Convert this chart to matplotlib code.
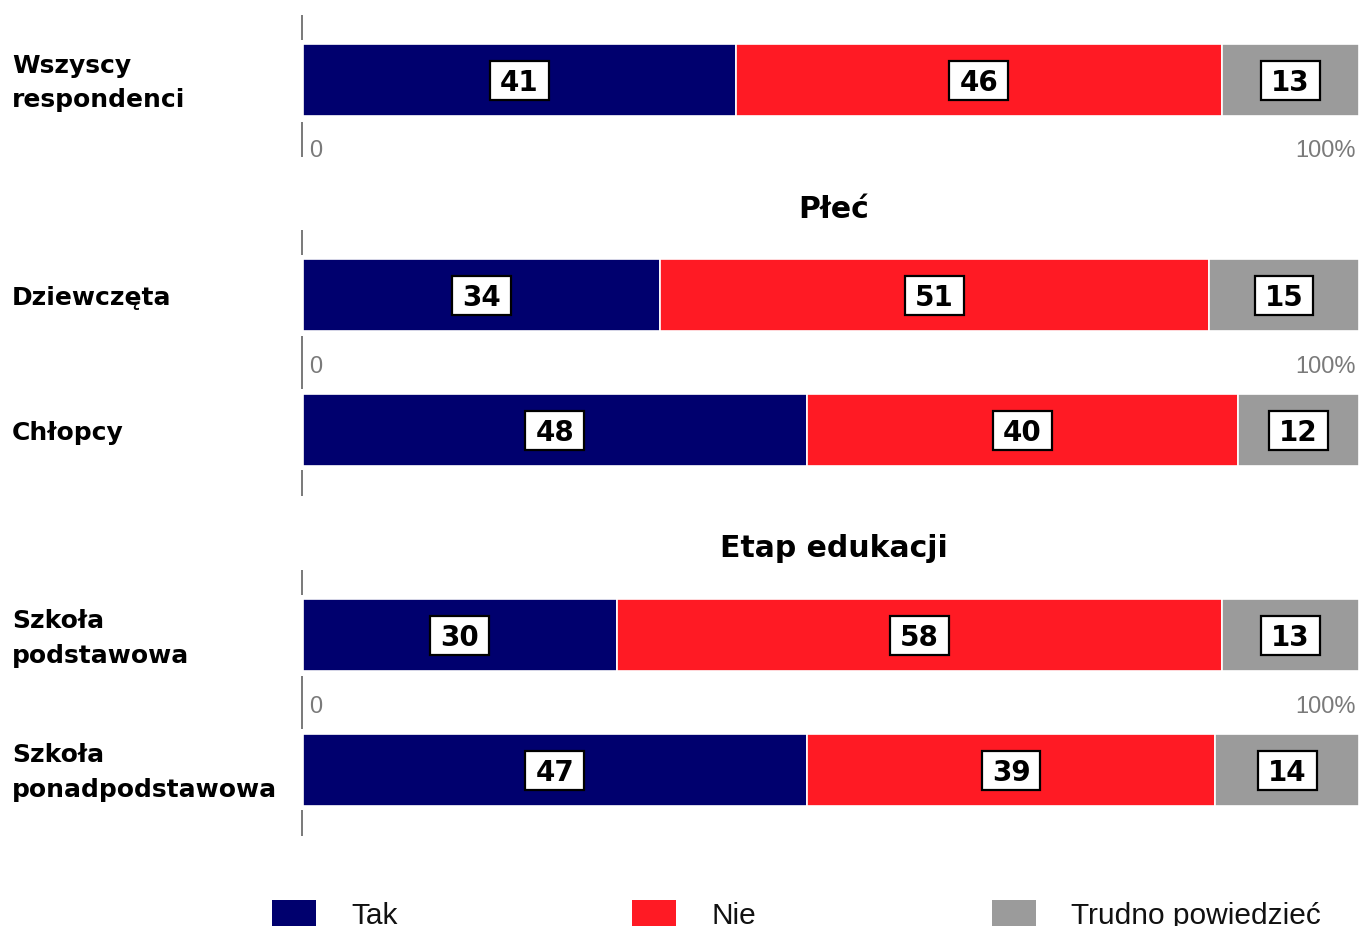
import matplotlib
matplotlib.use("Agg")
import matplotlib.pyplot as plt
from matplotlib.patches import Rectangle
from matplotlib.path import Path
import numpy as np

# ---------------- data ----------------
series = ["Tak", "Nie", "Trudno powiedzieć"]
colors = ["#00006E", "#FF1A24", "#9B9B9B"]

row_labels = ["Wszyscy\nrespondenci", "Dziewczęta", "Chłopcy",
              "Szkoła\npodstawowa", "Szkoła\nponadpodstawowa"]
# labelled (rounded) percentages
tak = [41, 34, 48, 30, 47]
nie = [46, 51, 40, 58, 39]
trudno = [13, 15, 12, 13, 14]
# bar shares
tak_share = [41.0, 33.8, 47.7, 29.7, 47.7]
nie_share = [46.0, 52.0, 40.8, 57.3, 38.7]
trudno_share = [13.0, 14.2, 11.5, 13.0, 13.6]

group_titles = ["", "Płeć", "Etap edukacji"]
tick_labels = ["0", "100%"]

# ---------------- layout (pixels) ----------------
W, H = 1359, 926
fig = plt.figure(figsize=(W / 100, H / 100), dpi=100)
X0 = 303
ax = fig.add_axes([X0 / W, 0, 1 - X0 / W, 1])
ax.set_xlim(0, 100)
ax.set_ylim(H, 0)
ax.axis('off')


def fx(x):
    return x / W


def fy(y):
    return 1 - y / H


def label_box(x0, y0, width, height, mutation_size):
    px = 0.36 * mutation_size
    pb = 0.10 * mutation_size
    pt = 0.30 * mutation_size
    xa, ya = x0 - px, y0 - pb
    xb, yb = x0 + width + px, y0 + height + pt
    return Path([(xa, ya), (xb, ya), (xb, yb), (xa, yb), (xa, ya)],
                closed=True)


bar_y = [80, 295, 430, 635, 770]
bar_h = 72
title_base = [None, 218, 557]
tick_base = [157, 373, 713]
line_spans = [[(15, 40), (122, 157)],
              [(230, 255), (336, 389), (470, 496)],
              [(570, 595), (676, 729), (810, 836)]]

# axis lines
for spans in line_spans:
    for y0, y1 in spans:
        ax.vlines(-0.09, y0, y1, color="#555555", lw=1.1, clip_on=False)

# bars
labels = np.array([tak, nie, trudno])
shares = np.array([tak_share, nie_share, trudno_share], dtype=float)
pct = shares / shares.sum(axis=0) * 100
left = np.zeros(len(tak))
for k in range(len(series)):
    ax.barh(bar_y, pct[k], left=left, height=bar_h, color=colors[k],
            edgecolor='white', linewidth=1.2)
    for i in range(len(tak)):
        cx = left[i] + pct[k][i] / 2
        ax.text(cx, bar_y[i] + 3, f"{labels[k][i]}", ha='center', va='center',
                fontsize=20, fontweight='bold', family='DejaVu Sans', color='black',
                bbox=dict(boxstyle=label_box, fc='white', ec='black', lw=1.6))
    left += pct[k]

# row labels
for i, lab in enumerate(row_labels):
    lines = lab.split("\n")
    n = len(lines)
    for j, line in enumerate(lines):
        yb = bar_y[i] + 10 + 35 * (j - (n - 1) / 2)
        fig.text(fx(12), fy(yb), line, ha='left', va='baseline', fontsize=18,
                 fontweight='bold', family='DejaVu Sans', color='black')

# group titles
for t, yb in zip(group_titles, title_base):
    if t:
        fig.text(fx(834), fy(yb), t, ha='center', va='baseline', fontsize=21.5,
                 fontweight='bold', family='DejaVu Sans', color='black')

# tick labels
for yb in tick_base:
    fig.text(fx(309), fy(yb), tick_labels[0], ha='left', va='baseline',
             fontsize=17, family='Liberation Sans', color='#7A7A7A')
    fig.text(fx(1356), fy(yb), tick_labels[1], ha='right', va='baseline',
             fontsize=17, family='Liberation Sans', color='#7A7A7A')

# legend
leg_x = [272, 632, 992]
for x, name, c in zip(leg_x, series, colors):
    fig.add_artist(Rectangle((fx(x), fy(940)), 44 / W, 40 / H,
                             transform=fig.transFigure, color=c, lw=0))
    fig.text(fx(x + 79), fy(924), name, ha='left', va='baseline', fontsize=21.5,
             family='Liberation Sans', color='#111111')

fig.savefig("out.png", dpi=100)
